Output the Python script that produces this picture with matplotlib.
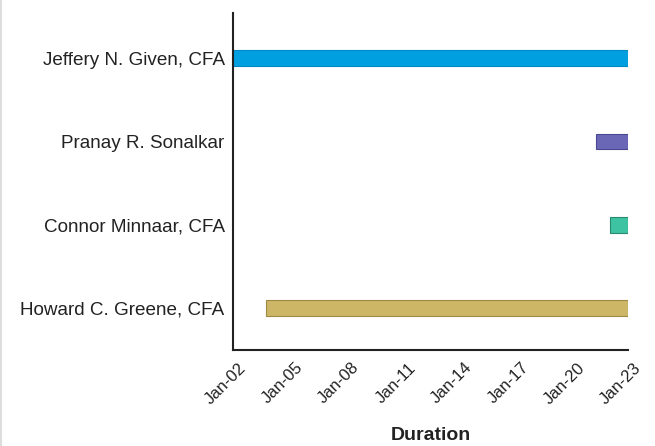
import matplotlib
matplotlib.use("Agg")
import matplotlib.pyplot as plt
import matplotlib.dates as mdates
import matplotlib.transforms as mtransforms
import pandas as pd

plt.rcParams["font.family"] = ["Liberation Sans", "DejaVu Sans"]

# 人员任期（自下而上绘制）
names = ["Howard C. Greene, CFA", "Connor Minnaar, CFA",
         "Pranay R. Sonalkar", "Jeffery N. Given, CFA"]
starts = ["2003-10-01", "2022-01-15", "2021-04-15", "2002-01-01"]
ends = ["2023-01-01", "2023-01-01", "2023-01-01", "2023-01-01"]
colors = ["#CDB665", "#3DC3A1", "#6A68B6", "#00A0E0"]
edges = ["#9C8A45", "#2A8A70", "#4A4890", "#0088C4"]
tick_dates = pd.date_range("2002-01-01", "2023-01-01", freq="3YS")

s = mdates.date2num(pd.to_datetime(starts))
e = mdates.date2num(pd.to_datetime(ends))

fig = plt.figure(figsize=(6.55, 4.46), dpi=100)
ax = fig.add_axes([0.3557, 0.2152, 0.6031, 0.7556])

ax.barh(range(len(names)), e - s, left=s, height=0.19, color=colors,
        edgecolor=edges, linewidth=0.8)

ax.set_yticks(range(len(names)))
ax.set_yticklabels(names, fontsize=13.6, color="#222")
ax.set_ylim(-0.5, 3.54)

ax.xaxis_date()
ax.set_xticks(mdates.date2num(tick_dates))
ax.xaxis.set_major_formatter(mdates.DateFormatter("%b-%y"))
ax.set_xlim(mdates.date2num(pd.Timestamp("2002-01-01")),
            mdates.date2num(pd.Timestamp("2023-01-01")))
ax.tick_params(axis="y", length=0, pad=6)
ax.tick_params(axis="x", length=0, pad=11)
shift = mtransforms.ScaledTranslation(8 / 72, 0, fig.dpi_scale_trans)
for lbl in ax.get_xticklabels():
    lbl.set_rotation(45)
    lbl.set_ha("right")
    lbl.set_va("center")
    lbl.set_rotation_mode("anchor")
    lbl.set_fontsize(12)
    lbl.set_color("#222")
    lbl.set_transform(lbl.get_transform() + shift)
ax.set_xlabel("Duration", fontsize=14, fontweight="bold", color="#222", labelpad=15)

for sp in ["top", "right"]:
    ax.spines[sp].set_visible(False)
for sp in ["left", "bottom"]:
    ax.spines[sp].set_color("#222")
    ax.spines[sp].set_linewidth(1.5)

fig.add_artist(plt.Line2D([0.001, 0.001], [0, 1], transform=fig.transFigure,
                          color="#ddd", lw=1.5))

fig.savefig("out.png", dpi=100)
